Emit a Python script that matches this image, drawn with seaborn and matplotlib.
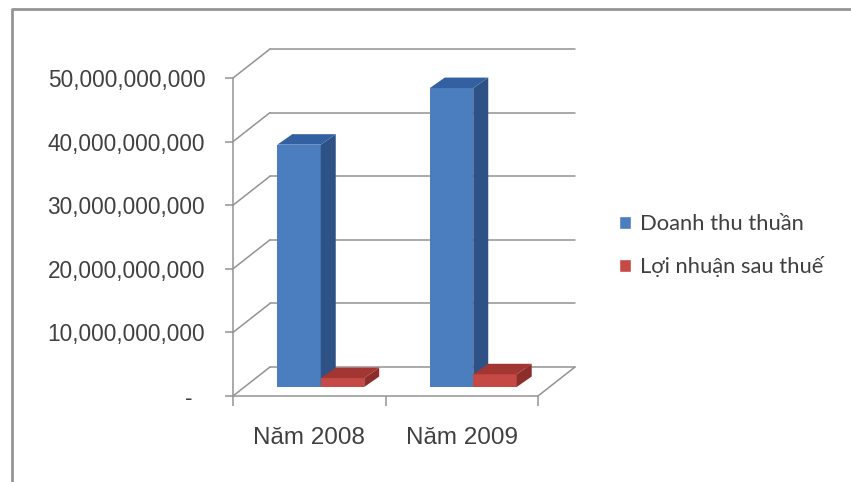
import pandas as pd
import seaborn as sns
import matplotlib.pyplot as plt
import matplotlib.ticker as mtick
from matplotlib.patches import Polygon, Patch
from matplotlib.lines import Line2D
from matplotlib.transforms import ScaledTranslation, IdentityTransform

# du lieu
nam = ['Năm 2008', 'Năm 2009']
chi_tieu = ['Doanh thu thuần', 'Lợi nhuận sau thuế']
doanh_thu = [38.1e9, 47.0e9]
loi_nhuan = [1.4e9, 2.0e9]
y_ticks = [0, 10e9, 20e9, 30e9, 40e9, 50e9]

df = pd.DataFrame({
    'Nam': nam * 2,
    'ChiTieu': [chi_tieu[0]] * 2 + [chi_tieu[1]] * 2,
    'GiaTri': doanh_thu + loi_nhuan,
})

sns.set_style('white')
plt.rcParams['font.family'] = ['Liberation Sans', 'DejaVu Sans']

W, H, DPI = 851, 482, 100
fig = plt.figure(figsize=(W / DPI, H / DPI), dpi=DPI)
ax = fig.add_axes([233 / W, (H - 396) / H, 305 / W, 318 / H])
ax.set_facecolor('none')

mau_truoc = ['#4a7ebf', '#c54a45']
mau_hong = ['#2e5286', '#8e2e2b']
mau_nap = ['#3360a0', '#a23633']

sns.barplot(data=df, x='Nam', y='GiaTri', hue='ChiTieu', palette=mau_truoc,
            width=0.57, saturation=1, legend=False, ax=ax)
ax.set_xlim(-0.5, 1.5)
ax.set_ylim(0, 50e9)

# phoi canh 3D (pixel)
DX, DY = 37, 29        # chieu sau tuong sau
BX, BY = 11.5, 9       # vi tri cot trong chieu sau
CX, CY = 15, 10.5      # do day cot
grid_c = '#939393'


def px(x, y):
    return ax.transData.transform((x, y))


def line_px(pts, **kw):
    ax.add_line(Line2D([p[0] for p in pts], [p[1] for p in pts], transform=IdentityTransform(),
                       clip_on=False, color=grid_c, lw=1.1, **kw))


# luoi tuong sau + tuong ben
for v in y_ticks:
    a = px(-0.5, v)
    b = px(1.5, v)
    line_px([(a[0] + DX, a[1] + DY), (b[0] + DX, b[1] + DY)], zorder=0)
    line_px([a, (a[0] + DX, a[1] + DY)], zorder=0)
# san
a0, b0 = px(-0.5, 0), px(1.5, 0)
line_px([a0, b0], zorder=0.5)
line_px([b0, (b0[0] + DX, b0[1] + DY)], zorder=0.5)
line_px([a0, px(-0.5, 50e9)], zorder=0.5)

# cot 3D
shift = ScaledTranslation(BX / DPI, BY / DPI, fig.dpi_scale_trans)
for i, p in enumerate(ax.patches):
    k = 0 if i < 2 else 1
    p.set_transform(ax.transData + shift)
    p.set_clip_on(False)
    p.set_edgecolor('none')
    p.set_zorder(2 + k * 3)
    x0, w, h = p.get_x(), p.get_width(), p.get_height()
    fl, fr = px(x0, h), px(x0 + w, h)
    br0 = px(x0 + w, 0)
    fl = (fl[0] + BX, fl[1] + BY)
    fr = (fr[0] + BX, fr[1] + BY)
    br0 = (br0[0] + BX, br0[1] + BY)
    side = [br0, fr, (fr[0] + CX, fr[1] + CY), (br0[0] + CX, br0[1] + CY)]
    top = [fl, fr, (fr[0] + CX, fr[1] + CY), (fl[0] + CX, fl[1] + CY)]
    ax.add_patch(Polygon(side, closed=True, transform=IdentityTransform(), clip_on=False,
                         facecolor=mau_hong[k], edgecolor='none', zorder=3 + k * 3))
    ax.add_patch(Polygon(top, closed=True, transform=IdentityTransform(), clip_on=False,
                         facecolor=mau_nap[k], edgecolor='none', zorder=4 + k * 3))

for s in ax.spines.values():
    s.set_visible(False)

ax.set_yticks(y_ticks)
ax.yaxis.set_major_formatter(mtick.FuncFormatter(lambda v, _: '-  ' if v == 0 else f'{v:,.0f}'))
ax.tick_params(axis='y', left=True, length=6, width=1.1, color=grid_c, pad=14,
               labelsize=16.3, labelcolor='#404040')
ax.set_xticks([0, 1])
ax.set_xticklabels(nam)
ax.set_xticks([-0.5, 0.5, 1.5], minor=True)
ax.tick_params(axis='x', which='major', length=0, pad=22.5, labelsize=17.5, labelcolor='#404040')
ax.tick_params(axis='x', which='minor', bottom=True, length=7, width=1.1, color=grid_c)
ax.set_xlabel('')
ax.set_ylabel('')

# chu thich
handles = [Patch(facecolor=c) for c in mau_truoc]
fig.legend(handles, chi_tieu, loc='upper left', bbox_to_anchor=(619 / W, 1 - 214 / H),
           frameon=False, prop={'family': ['Lato', 'DejaVu Sans'], 'size': 15.8},
           handlelength=0.55, handleheight=0.55, handletextpad=0.42, labelspacing=1.0,
           borderpad=0, borderaxespad=0, labelcolor='#404040')

# khung bieu do
fig.add_artist(Line2D([12 / W, 12 / W, 1], [0, 1 - 9 / H, 1 - 9 / H], transform=fig.transFigure,
                      color='#959595', lw=2))

fig.savefig('out.png', dpi=DPI)
